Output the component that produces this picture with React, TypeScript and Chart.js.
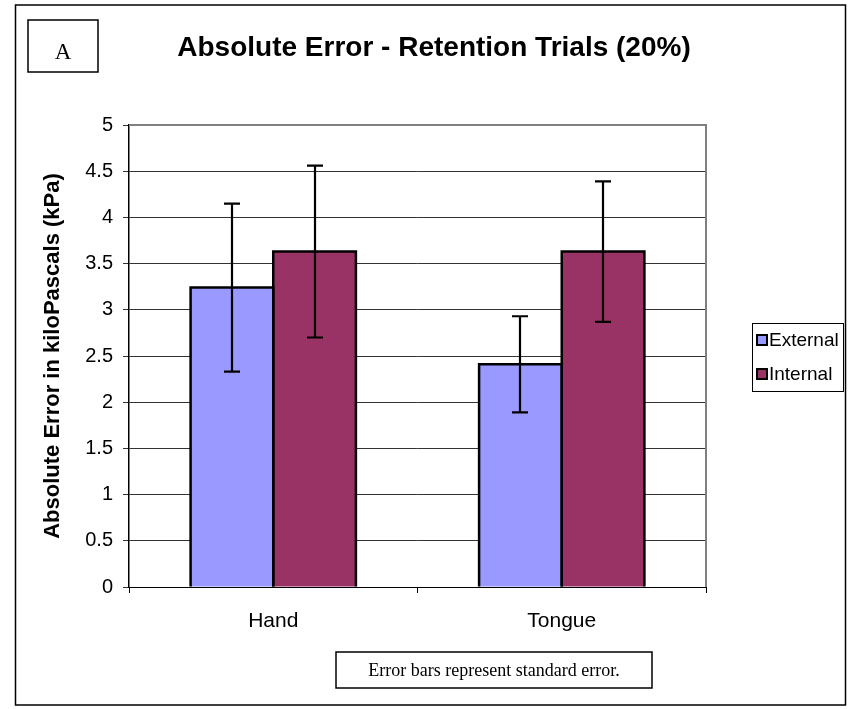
import React, { useEffect, useRef } from "react";
import { Chart, registerables } from "chart.js";

Chart.register(...registerables);

const categories = ["Hand", "Tongue"];
const seriesNames = ["External", "Internal"];
const externalValues = [3.24, 2.41];
const internalValues = [3.63, 3.63];
const externalErrors = [0.91, 0.52];
const internalErrors = [0.93, 0.76];
const seriesColors = ["#9999FF", "#993366"];
const yMin = 0;
const yMax = 5;
const yStep = 0.5;
const chartTitle = "Absolute Error - Retention Trials (20%)";
const yAxisTitle = "Absolute Error in kiloPascals (kPa)";
const panelLabel = "A";
const captionText = "Error bars represent standard error.";

const SANS = "'Liberation Sans', Arial, sans-serif";
const SERIF = "'Liberation Serif', 'Times New Roman', serif";

const W = 851;
const H = 709;
const PLOT = { left: 129, right: 706, top: 125, bottom: 587 };

const errorBarPlugin = {
  id: "errorBars",
  afterDatasetsDraw(chart: any) {
    const ctx = chart.ctx;
    const yScale = chart.scales.y;
    ctx.save();
    ctx.strokeStyle = "#000";
    // bar outlines
    ctx.lineWidth = 2.5;
    chart.data.datasets.forEach((ds: any, i: number) => {
      const meta = chart.getDatasetMeta(i);
      meta.data.forEach((el: any) => {
        const p = el.getProps(["x", "y", "base", "width"], true);
        const l = p.x - p.width / 2;
        const r = p.x + p.width / 2;
        ctx.beginPath();
        ctx.moveTo(l, p.base);
        ctx.lineTo(l, p.y);
        ctx.lineTo(r, p.y);
        ctx.lineTo(r, p.base);
        ctx.stroke();
      });
    });
    // error bars
    ctx.lineWidth = 2.2;
    chart.data.datasets.forEach((ds: any, i: number) => {
      const meta = chart.getDatasetMeta(i);
      meta.data.forEach((el: any, j: number) => {
        const v = ds.data[j];
        const e = ds.errors[j];
        const x = Math.round(el.x);
        const yt = yScale.getPixelForValue(v + e);
        const yb = yScale.getPixelForValue(v - e);
        ctx.beginPath();
        ctx.moveTo(x, yt);
        ctx.lineTo(x, yb);
        ctx.moveTo(x - 8, yt);
        ctx.lineTo(x + 8, yt);
        ctx.moveTo(x - 8, yb);
        ctx.lineTo(x + 8, yb);
        ctx.stroke();
      });
    });
    ctx.restore();
  },
};

const decorPlugin = {
  id: "decor",
  afterDraw(chart: any) {
    const ctx = chart.ctx;
    const ca = chart.chartArea;
    ctx.save();
    // plot border top & right (gray)
    ctx.strokeStyle = "#808080";
    ctx.lineWidth = 2;
    ctx.beginPath();
    ctx.moveTo(ca.left, ca.top);
    ctx.lineTo(ca.right, ca.top);
    ctx.lineTo(ca.right, ca.bottom);
    ctx.stroke();

    // outer frame
    ctx.strokeStyle = "#000";
    ctx.lineWidth = 1.5;
    ctx.strokeRect(15.5, 5, 830, 700);

    // panel label box
    ctx.lineWidth = 1.5;
    ctx.strokeRect(28, 20, 70, 52);
    ctx.fillStyle = "#000";
    ctx.font = `23px ${SERIF}`;
    ctx.textAlign = "center";
    ctx.textBaseline = "middle";
    ctx.fillText(panelLabel, 63, 53);

    // title
    ctx.font = `bold 28px ${SANS}`;
    ctx.fillText(chartTitle, 434, 48);

    // legend
    ctx.lineWidth = 1;
    ctx.strokeRect(752.5, 323.5, 91, 68);
    ctx.font = `19px ${SANS}`;
    ctx.textAlign = "left";
    chart.data.datasets.forEach((ds: any, i: number) => {
      const cy = 340 + i * 34;
      ctx.fillStyle = ds.backgroundColor;
      ctx.fillRect(757, cy - 5, 10, 10);
      ctx.lineWidth = 2;
      ctx.strokeStyle = "#000";
      ctx.strokeRect(757, cy - 5, 10, 10);
      ctx.fillStyle = "#000";
      ctx.fillText(ds.label, 769, cy + 1);
    });

    // caption
    ctx.lineWidth = 1.5;
    ctx.strokeRect(336, 652, 316, 36);
    ctx.font = `18px ${SERIF}`;
    ctx.textAlign = "center";
    ctx.fillText(captionText, 494, 671);
    ctx.restore();
  },
};

export default function App() {
  const ref = useRef<HTMLCanvasElement | null>(null);
  useEffect(() => {
    if (!ref.current) return;
    const chart = new Chart(ref.current, {
      type: "bar",
      data: {
        labels: categories,
        datasets: [
          {
            label: seriesNames[0],
            data: externalValues,
            errors: externalErrors,
            backgroundColor: seriesColors[0],
            borderWidth: 0,
          } as any,
          {
            label: seriesNames[1],
            data: internalValues,
            errors: internalErrors,
            backgroundColor: seriesColors[1],
            borderWidth: 0,
          } as any,
        ],
      },
      options: {
        responsive: false,
        animation: false,
        devicePixelRatio: 1,
        categoryPercentage: 0.573,
        barPercentage: 1.0,
        layout: { padding: { top: PLOT.top, right: W - PLOT.right, left: 0, bottom: 0 } },
        plugins: {
          legend: { display: false },
          title: { display: false },
          tooltip: { enabled: false },
        },
        scales: {
          x: {
            afterFit(s: any) {
              s.height = H - PLOT.bottom;
            },
            grid: {
              offset: true,
              drawOnChartArea: false,
              drawTicks: true,
              tickLength: 6,
              color: "#000",
              lineWidth: 1,
            },
            border: { display: true, color: "#000", width: 1 },
            ticks: {
              color: "#000",
              font: { family: SANS, size: 21 },
              padding: 16,
            },
          },
          y: {
            min: yMin,
            max: yMax,
            afterFit(s: any) {
              s.width = PLOT.left;
            },
            grid: {
              color: "#333",
              lineWidth: 1,
              tickLength: 6,
              drawTicks: true,
            },
            border: { display: true, color: "#000", width: 1.5 },
            ticks: {
              stepSize: yStep,
              color: "#000",
              font: { family: SANS, size: 20 },
              padding: 10,
              callback: (v: any) => String(v),
            },
            title: {
              display: true,
              text: yAxisTitle,
              color: "#000",
              font: { family: SANS, size: 22, weight: "bold" },
              padding: { top: 40, bottom: 0 },
            },
          },
        },
      } as any,
      plugins: [errorBarPlugin, decorPlugin],
    });
    return () => chart.destroy();
  }, []);
  return (
    <div style={{ position: "absolute", left: 0, top: 0, width: W, height: H, background: "#fff" }}>
      <canvas ref={ref} width={W} height={H} style={{ width: W, height: H, display: "block" }} />
    </div>
  );
}
